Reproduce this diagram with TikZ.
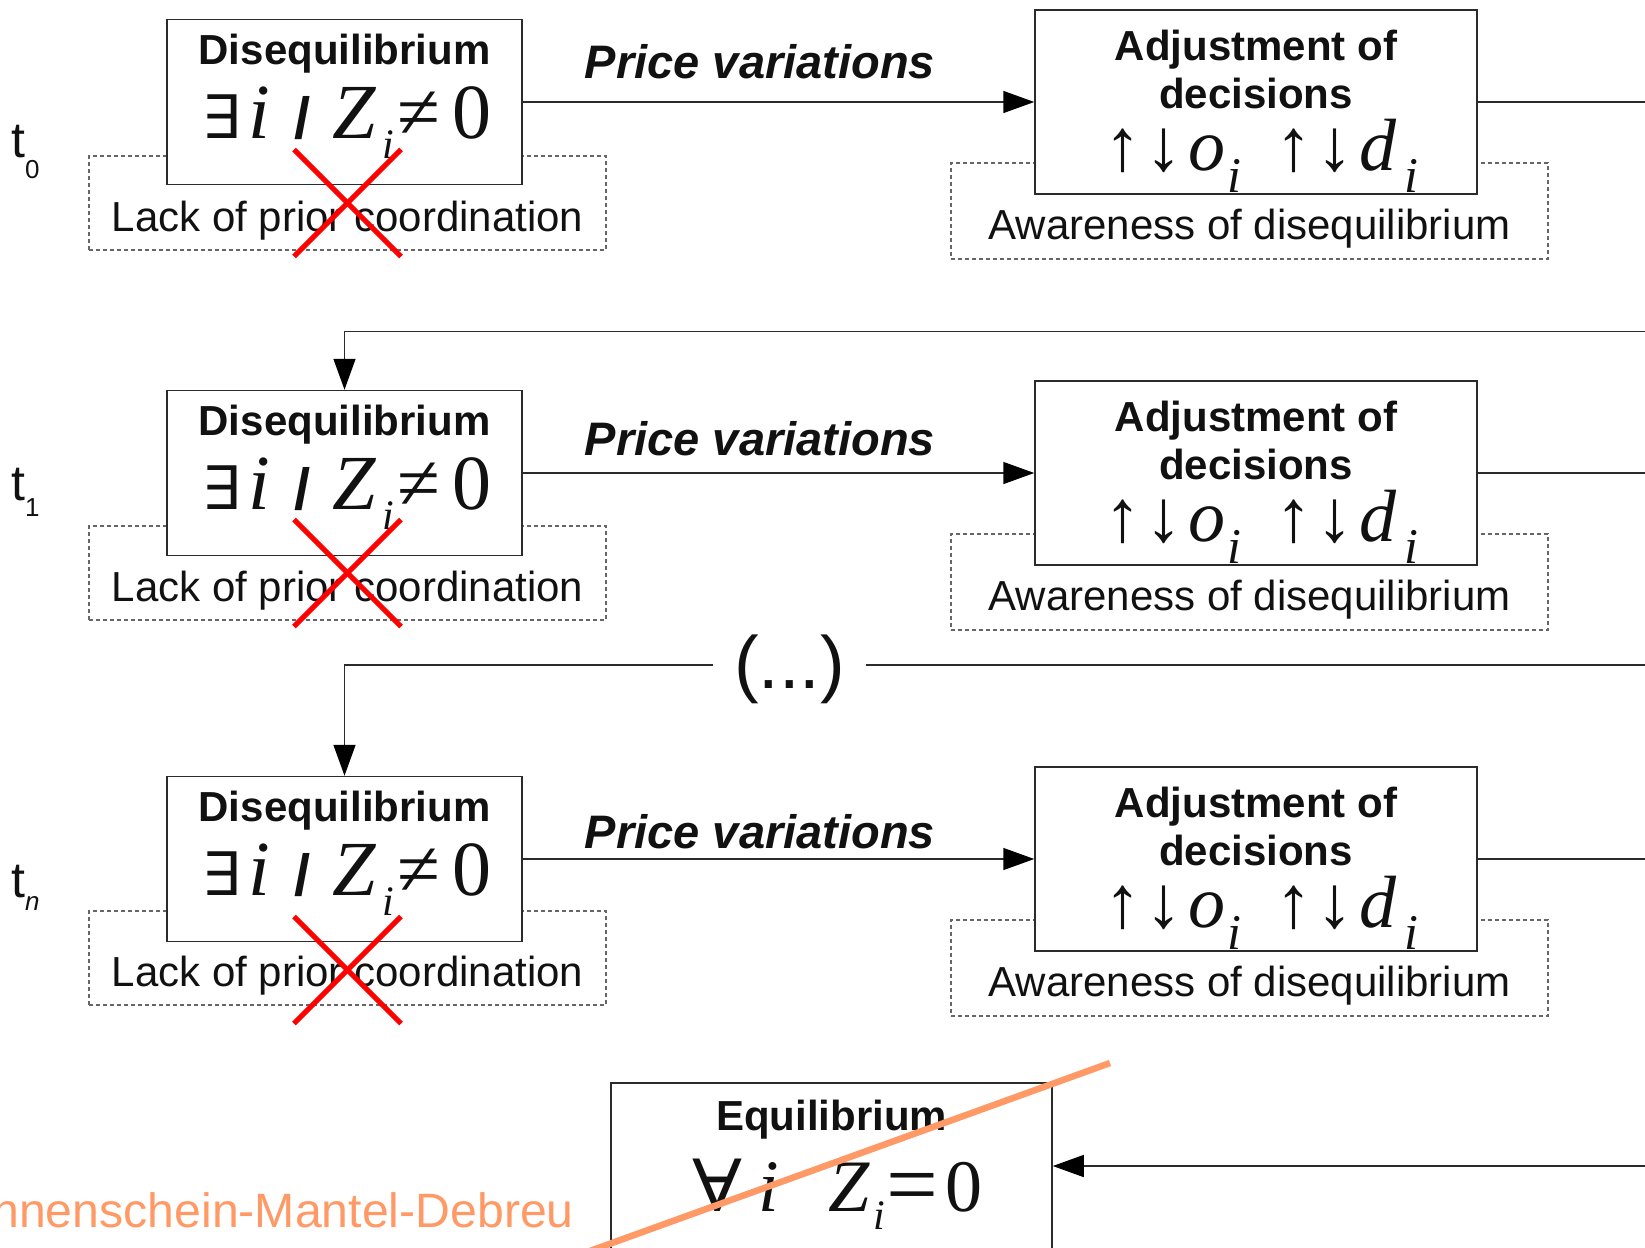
\documentclass[tikz,border=0pt]{standalone}
\usepackage{fontspec}
\usepackage{graphicx}
\setmainfont{Liberation Sans}
\newfontfamily\serifm{Liberation Serif}
\newfontfamily\sansm{Liberation Sans}
\newfontfamily\symm{DejaVu Serif}
\usetikzlibrary{arrows.meta,positioning,calc}
\definecolor{ink}{HTML}{111111}
\definecolor{edge}{HTML}{2B2B2B}
\definecolor{muted}{HTML}{666666}
\definecolor{cross}{HTML}{FF0000}
\definecolor{smd}{HTML}{FF9966}
\newcommand{\subi}[2]{\raisebox{#1}{\fontsize{#2}{#2}\selectfont\itshape i}}
\tikzset{
  arr/.style={-{Triangle[length=31pt,width=22pt,color=black]}, line width=1.5pt, draw=edge},
  conn/.style={line width=1.5pt, draw=edge},
  figbase/.style={x=1pt, y=-1pt, color=ink},
  box/.style={draw=edge, line width=1.5pt, fill=white, inner sep=0pt},
  dotbox/.style={draw=muted, line width=1.3pt, dash pattern=on 4pt off 3pt, inner sep=0pt},
  ttl/.style={font=\fontsize{42}{48}\selectfont\bfseries, align=center, inner sep=0pt},
  lab/.style={font=\fontsize{42}{48}\selectfont, inner sep=0pt},
  mth/.style={font=\serifm\fontsize{78}{84}\selectfont, inner sep=0pt},
  mthb/.style={font=\serifm\fontsize{74}{80}\selectfont, inner sep=0pt},
  pv/.style={font=\fontsize{47}{52}\selectfont\bfseries\itshape, inner sep=0pt},
  tlab/.style={font=\fontsize{50}{54}\selectfont, inner sep=0pt},
  nix/.style={draw=cross, line width=5pt},
  strike/.style={draw=smd, line width=6.5pt},
}

\begin{document}
\begin{tikzpicture}[figbase]
  \useasboundingbox (0,0) rectangle (1645,1247);
  \clip (0,0) rectangle (1645,1247);

  % t_0
  \node[dotbox, minimum width=517pt, minimum height=94pt] (lk0) at (347.5,203) {};
  \node[dotbox, minimum width=597pt, minimum height=96pt] (aw0) at (1249.5,211) {};
  \node[box, minimum width=355pt, minimum height=165pt] (d0) at (344.5,102) {};
  \node[box, minimum width=442pt, minimum height=184pt] (a0) at (1256,102) {};
  \node[ttl, anchor=base] (d0t) at ([yshift=-46pt]d0.north) {Disequilibrium};
  \node[mth, anchor=base, xshift=3pt] (d0m) at ([yshift=-120pt]d0.north)
    {{\symm\fontsize{60}{60}\selectfont\scalebox{1.2}[1]{∃}}\hspace{6pt}{\itshape i}\hspace{24pt}{\sansm\bfseries\fontsize{58}{58}\selectfont /}\hspace{22pt}{\itshape Z}\hspace{7pt}\subi{-20pt}{42}\hspace{3pt}≠\hspace{12pt}0};
  \node[ttl, anchor=base] (a0t) at ([yshift=-99pt]a0.north) {Adjustment of\\decisions};
  \node[mthb, anchor=base, xshift=5pt] (a0m) at ([yshift=-161pt]a0.north)
    {↑\hspace{4pt}↓\hspace{6pt}{\itshape o}\hspace{2pt}\subi{-22pt}{50}\hspace{34pt}↑\hspace{4pt}↓\hspace{6pt}{\itshape d}\hspace{8pt}\subi{-22pt}{50}};
  \node[lab, anchor=base] (lk0t) at ([yshift=19pt]lk0.south) {Lack of prior coordination};
  \node[lab, anchor=base] (aw0t) at ([yshift=20pt]aw0.south) {Awareness of disequilibrium};
  \node[pv, anchor=base] (pv0) at (760,78) {Price variations};
  \node[tlab, anchor=base west] (t0) at (11,157) {t\raisebox{-21pt}{\fontsize{26}{26}\selectfont 0}};
  \draw[nix] ([shift={(-53.5,-53.5)}]lk0.center) -- ([shift={(53.5,53.5)}]lk0.center);
  \draw[nix] ([shift={(-53.5,53.5)}]lk0.center) -- ([shift={(53.5,-53.5)}]lk0.center);
  \draw[arr] (d0) -- (a0);
  \coordinate (out0) at (1645,102);
  \draw[conn] (a0) -- (out0);

  % t_1
  \node[dotbox, minimum width=517pt, minimum height=94pt] (lk1) at (347.5,573) {};
  \node[dotbox, minimum width=597pt, minimum height=96pt] (aw1) at (1249.5,582) {};
  \node[box, minimum width=355pt, minimum height=165pt] (d1) at (344.5,473) {};
  \node[box, minimum width=442pt, minimum height=184pt] (a1) at (1256,473) {};
  \node[ttl, anchor=base] (d1t) at ([yshift=-46pt]d1.north) {Disequilibrium};
  \node[mth, anchor=base, xshift=3pt] (d1m) at ([yshift=-120pt]d1.north)
    {{\symm\fontsize{60}{60}\selectfont\scalebox{1.2}[1]{∃}}\hspace{6pt}{\itshape i}\hspace{24pt}{\sansm\bfseries\fontsize{58}{58}\selectfont /}\hspace{22pt}{\itshape Z}\hspace{7pt}\subi{-20pt}{42}\hspace{3pt}≠\hspace{12pt}0};
  \node[ttl, anchor=base] (a1t) at ([yshift=-99pt]a1.north) {Adjustment of\\decisions};
  \node[mthb, anchor=base, xshift=5pt] (a1m) at ([yshift=-161pt]a1.north)
    {↑\hspace{4pt}↓\hspace{6pt}{\itshape o}\hspace{2pt}\subi{-22pt}{50}\hspace{34pt}↑\hspace{4pt}↓\hspace{6pt}{\itshape d}\hspace{8pt}\subi{-22pt}{50}};
  \node[lab, anchor=base] (lk1t) at ([yshift=19pt]lk1.south) {Lack of prior coordination};
  \node[lab, anchor=base] (aw1t) at ([yshift=20pt]aw1.south) {Awareness of disequilibrium};
  \node[pv, anchor=base] (pv1) at (760,455) {Price variations};
  \node[tlab, anchor=base west] (t1) at (11,500) {t\raisebox{-16pt}{\fontsize{26}{26}\selectfont 1}};
  \draw[nix] ([shift={(-53.5,-53.5)}]lk1.center) -- ([shift={(53.5,53.5)}]lk1.center);
  \draw[nix] ([shift={(-53.5,53.5)}]lk1.center) -- ([shift={(53.5,-53.5)}]lk1.center);
  \coordinate (in1) at (1645,331.5);
  \draw[arr] (in1) -| (d1.north);
  \draw[arr] (d1) -- (a1);
  \coordinate (out1) at (1645,473);
  \draw[conn] (a1) -- (out1);

  % (...)
  \node[font=\fontsize{74}{80}\selectfont, inner xsep=21pt, inner ysep=0pt] (gap) at (789.5,669) {(...)};
  \coordinate (inn) at (1645,665);
  \draw[conn] (inn) -- (inn -| gap.east);

  % t_n
  \node[dotbox, minimum width=517pt, minimum height=94pt] (lkn) at (347.5,958) {};
  \node[dotbox, minimum width=597pt, minimum height=96pt] (awn) at (1249.5,968) {};
  \node[box, minimum width=355pt, minimum height=165pt] (dn) at (344.5,859) {};
  \node[box, minimum width=442pt, minimum height=184pt] (an) at (1256,859) {};
  \node[ttl, anchor=base] (dnt) at ([yshift=-46pt]dn.north) {Disequilibrium};
  \node[mth, anchor=base, xshift=3pt] (dnm) at ([yshift=-120pt]dn.north)
    {{\symm\fontsize{60}{60}\selectfont\scalebox{1.2}[1]{∃}}\hspace{6pt}{\itshape i}\hspace{24pt}{\sansm\bfseries\fontsize{58}{58}\selectfont /}\hspace{22pt}{\itshape Z}\hspace{7pt}\subi{-20pt}{42}\hspace{3pt}≠\hspace{12pt}0};
  \node[ttl, anchor=base] (ant) at ([yshift=-99pt]an.north) {Adjustment of\\decisions};
  \node[mthb, anchor=base, xshift=5pt] (anm) at ([yshift=-161pt]an.north)
    {↑\hspace{4pt}↓\hspace{6pt}{\itshape o}\hspace{2pt}\subi{-22pt}{50}\hspace{34pt}↑\hspace{4pt}↓\hspace{6pt}{\itshape d}\hspace{8pt}\subi{-22pt}{50}};
  \node[lab, anchor=base] (lknt) at ([yshift=19pt]lkn.south) {Lack of prior coordination};
  \node[lab, anchor=base] (awnt) at ([yshift=20pt]awn.south) {Awareness of disequilibrium};
  \node[pv, anchor=base] (pvn) at (760,848) {Price variations};
  \node[tlab, anchor=base west] (tn) at (11,897) {t\raisebox{-13pt}{\fontsize{26}{26}\selectfont\itshape n}};
  \draw[nix] ([shift={(-53.5,-41.5)}]lkn.center) -- ([shift={(53.5,65.5)}]lkn.center);
  \draw[nix] ([shift={(-53.5,65.5)}]lkn.center) -- ([shift={(53.5,-41.5)}]lkn.center);
  \draw[arr] (inn -| gap.west) -| (dn.north);
  \draw[arr] (dn) -- (an);
  \coordinate (outn) at (1645,859);
  \draw[conn] (an) -- (outn);

  % equilibrium
  \node[box, minimum width=441pt, minimum height=172pt] (eq) at (831.5,1169) {};
  \node[ttl, anchor=base] (eqt) at ([yshift=-48pt]eq.north) {Equilibrium};
  \node[mthb, anchor=base, xshift=6pt] (eqm) at ([yshift=-129pt]eq.north)
    {{\symm\fontsize{72}{72}\selectfont\scalebox{1.15}[1]{∀}}\hspace{16pt}{\itshape i}\hspace{50pt}{\itshape Z}\hspace{3pt}\subi{-18pt}{42}\hspace{2pt}\raisebox{-4pt}{\fontsize{92}{92}\selectfont =}\hspace{7pt}0};
  \coordinate (ineq) at (1645,1166);
  \draw[arr] (ineq) -- (ineq -| eq.east);
  \node[lab, font=\fontsize{48.2}{52}\selectfont, text=smd, anchor=base east] (smd) at (574,1227) {Sonnenschein-Mantel-Debreu};
  \draw[strike] (565,1260) -- (1110,1063);
\end{tikzpicture}
\end{document}
